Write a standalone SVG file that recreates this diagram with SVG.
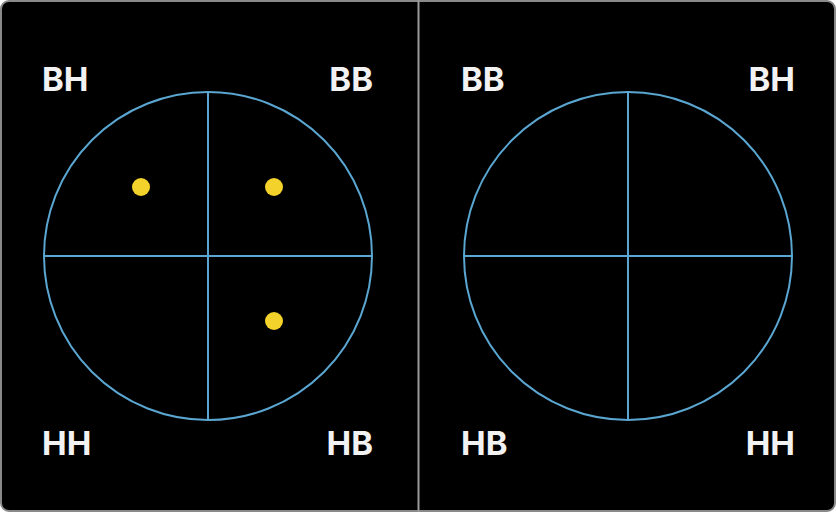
<svg xmlns="http://www.w3.org/2000/svg" width="836" height="512" viewBox="0 0 836 512">
<style>
.lbl{font-family:Inter,"Open Sans","Liberation Sans",sans-serif;font-weight:700;font-size:33px;fill:#f2f2f2}
.ring{fill:none;stroke:#5aa6d0;stroke-width:2}
.ax{stroke:#5aa6d0;stroke-width:2}
.dot{fill:#f3d22b}
</style>
<rect x="1" y="1" width="834" height="510" rx="8" fill="#000" stroke="#8a8a8a" stroke-width="2"/>
<line x1="418.5" y1="0" x2="418.5" y2="512" stroke="#9a9a9a" stroke-width="2"/>
<g id="left">
<circle class="ring" cx="208" cy="256" r="164"/>
<line class="ax" x1="208" y1="92" x2="208" y2="420"/>
<line class="ax" x1="44" y1="256" x2="372" y2="256"/>
<circle class="dot" cx="141" cy="187" r="9"/>
<circle class="dot" cx="274" cy="187" r="9"/>
<circle class="dot" cx="274" cy="321" r="9"/>
<text class="lbl" x="42" y="91">BH</text>
<text class="lbl" x="373" y="91" text-anchor="end">BB</text>
<text class="lbl" x="42" y="455">HH</text>
<text class="lbl" x="373" y="455" text-anchor="end">HB</text>
</g>
<g id="right">
<circle class="ring" cx="628" cy="256" r="164"/>
<line class="ax" x1="628" y1="92" x2="628" y2="420"/>
<line class="ax" x1="464" y1="256" x2="792" y2="256"/>
<text class="lbl" x="461" y="91">BB</text>
<text class="lbl" x="795" y="91" text-anchor="end">BH</text>
<text class="lbl" x="461" y="455">HB</text>
<text class="lbl" x="795" y="455" text-anchor="end">HH</text>
</g>
</svg>
